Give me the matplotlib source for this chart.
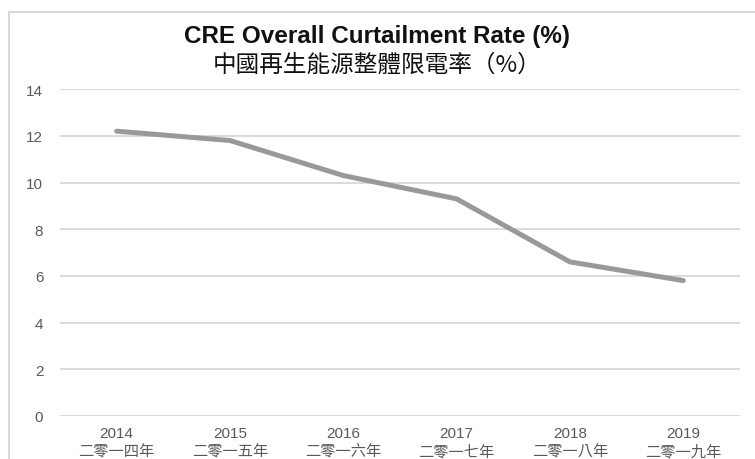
import matplotlib.pyplot as plt
from matplotlib.patches import Rectangle

plt.rcParams['font.family'] = ['Liberation Sans', 'Noto Sans CJK TC', 'DejaVu Sans']

# data
years = ["2014", "2015", "2016", "2017", "2018", "2019"]
years_zh = ["二零一四年", "二零一五年", "二零一六年", "二零一七年", "二零一八年", "二零一九年"]
rate = [12.2, 11.8, 10.3, 9.3, 6.6, 5.8]

fig = plt.figure(figsize=(7.55, 4.6), dpi=100)
ax = fig.add_axes([0.0795, 0.0935, 0.9005, 0.7105])

x = list(range(len(years)))
ax.plot(x, rate, color="#999999", linewidth=3.6, solid_capstyle="round")

ax.set_xlim(-0.5, len(years) - 0.5)
ax.set_ylim(0, 14)
ax.set_yticks(range(0, 15, 2))
ax.set_xticks(x)
ax.set_xticklabels([f"{y}\n{z}" for y, z in zip(years, years_zh)], linespacing=1.4)

ax.grid(axis="y", color="#d9d9d9", linewidth=1.3)
ax.set_axisbelow(True)
for s in ax.spines.values():
    s.set_visible(False)
ax.tick_params(axis="both", length=0, colors="#595959", labelsize=11)
ax.tick_params(axis="y", pad=12)
ax.tick_params(axis="x", pad=7)

fig.text(0.5, 0.920, "CRE Overall Curtailment Rate (%)", ha="center", va="center",
         fontsize=17.5, fontweight="bold", color="#111111")
fig.text(0.5, 0.859, "中國再生能源整體限電率（%）", ha="center", va="center",
         fontsize=17, color="#111111", family=['Noto Sans CJK TC', 'DejaVu Sans'])

# outer frame
fig.patches.append(Rectangle((9 / 755, -0.05), 1.0, 1 - 13 / 460 + 0.05,
                             transform=fig.transFigure, fill=False,
                             edgecolor="#d9d9d9", linewidth=1.5))

fig.savefig("out.png", dpi=100)
